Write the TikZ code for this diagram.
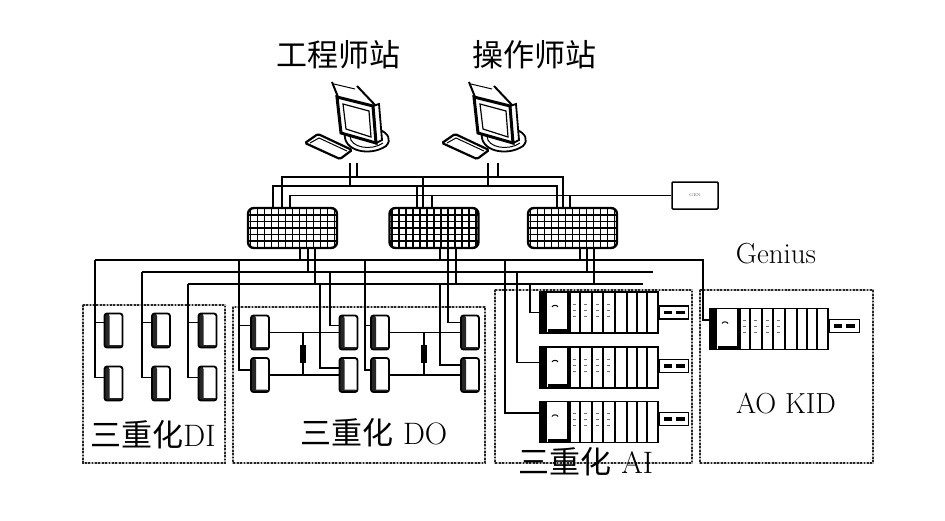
\documentclass[tikz,border=0pt]{standalone}
\usepackage{fontspec}
\newfontfamily\cjk{Noto Sans CJK SC}
\usetikzlibrary{calc}
\newcommand\wstation{%
  % keyboard
  \draw[line width=2.2pt, rounded corners=1.5pt, fill=white] (305,143) -- (318,134) -- (352,150) -- (340,159) -- cycle;
  \draw[line width=1pt] (310,143) -- (319,138) -- (347,151);
  % base
  \draw[line width=1.8pt] (345,133) .. controls (342,151) and (370,157) .. (386,146) .. controls (392,140) and (388,133) .. (380,130);
  \draw[line width=1pt] (350,136) .. controls (350,148) and (372,151) .. (383,143);
  % back of monitor
  \draw[line width=2pt] (332,82) -- (338,97);
  \draw[line width=2pt] (357,86) -- (375,105);
  \draw[line width=1pt] (334,84) -- (355,89);
  % right side
  \draw[line width=1.8pt, fill=white] (373,106) -- (379,104) -- (382,140) -- (376,143) -- cycle;
  % front frame
  \draw[line width=3pt, fill=white] (337,97) -- (373,106) -- (376,143) -- (341,133) -- cycle;
  \draw[line width=1.2pt] (343,104) -- (369,111) -- (371,137) -- (346,129) -- cycle;
}
\begin{document}
\begin{tikzpicture}[x=1pt,y=-1pt,
  wire/.style={line width=1.45pt},
  grpbase/.style={draw=black!30, line width=2.8pt},
  grp/.style={draw=black!85, line width=2.8pt, dash pattern=on 1.8pt off 1.6pt},
  iomod/.style={draw, line width=1.8pt, rounded corners=2.5pt, minimum width=18pt, minimum height=34pt, inner sep=0pt, fill=white,
    path picture={\fill[black!85] (path picture bounding box.south west) rectangle ([xshift=5pt]path picture bounding box.north west);
      \fill[black!85] (path picture bounding box.south west) rectangle ([yshift=2.5pt]path picture bounding box.south east);}},
  switchbox/.style={draw, line width=2.4pt, rounded corners=6pt, minimum width=89pt, minimum height=40pt, inner sep=0pt, fill=white,
    path picture={\draw[line width=1.1pt, xstep=7pt, ystep=6.5pt] (path picture bounding box.south west) grid (path picture bounding box.north east);}},
  rack/.style={draw, line width=1.6pt, minimum width=118pt, minimum height=41pt, inner sep=0pt, fill=white,
    path picture={%
      \fill[black] (path picture bounding box.south west) rectangle ([xshift=7pt]path picture bounding box.north west);
      \fill[black] ([xshift=8pt,yshift=1pt]path picture bounding box.south west) rectangle ([xshift=27pt,yshift=4pt]path picture bounding box.south west);
      \draw[line width=1pt] ([xshift=12pt,yshift=-15pt]path picture bounding box.north west) to[bend left=70] ++(6pt,0);
      \foreach \o in {28,30,40,52,63,75,87,97,107}{\draw[line width=1.1pt] ([xshift=\o pt]path picture bounding box.south west) -- ([xshift=\o pt]path picture bounding box.north west);}
      \foreach \o in {33,44,56,67}{\foreach \h in {12,18,24}{\draw[black!55, line width=0.8pt] ([xshift=\o pt,yshift=-\h pt]path picture bounding box.north west) -- ++(3pt,0);}}}},
  railbox/.style={draw, line width=1.5pt, minimum width=29pt, minimum height=13pt, inner sep=0pt, fill=white,
    path picture={\fill[black] ([xshift=4pt,yshift=-1.8pt]path picture bounding box.west) rectangle ([xshift=12pt,yshift=1.8pt]path picture bounding box.west);
      \fill[black] ([xshift=16pt,yshift=-1.8pt]path picture bounding box.west) rectangle ([xshift=25pt,yshift=1.8pt]path picture bounding box.west);}},
  resist/.style={fill=black, minimum width=6pt, minimum height=18pt, inner sep=0pt},
  genbox/.style={draw, line width=1.5pt, rounded corners=1pt, minimum width=46pt, minimum height=27pt, inner sep=0pt, fill=white},
  cjklab/.style={font=\fontsize{31}{31}\selectfont, inner sep=0pt},
  latlab/.style={font=\fontsize{29}{29}\selectfont, inner sep=0pt}]
\useasboundingbox[fill=white] (0,0) rectangle (945,520);

% ---------------- labels
\node[cjklab] (englab) at (338,55) {\cjk 工程师站};
\node[cjklab] (oplab) at (534,55) {\cjk 操作师站};
\node[latlab] (genius) at (776,254) {Genius};

% ---------------- workstations
\wstation
\begin{scope}[xshift=137pt]\wstation\end{scope}
\coordinate (engL) at (350,163);
\coordinate (engR) at (357,163);
\coordinate (opL) at (488,163);
\coordinate (opR) at (498,163);

% ---------------- switches and GEN
\node[switchbox] (s1) at (292.5,228) {};
\node[switchbox] (s2) at (434,228) {};
\node[switchbox] (s3) at (572.5,228) {};
\node[genbox] (gen) at (695,195.5) {\fontsize{4}{4}\selectfont\color{black!60}GEN};

\coordinate (T1) at (0,177);
\coordinate (T2) at (0,186);

\foreach \s/\a/\b/\c in {s1/-10.5/-19.5/-2.5, s2/-11/-17/-2, s3/-9.5/-15.5/-2.5}{
  \path ([xshift=\a pt]\s.north) coordinate (\s-u1)
        ([xshift=\b pt]\s.north) coordinate (\s-u2)
        ([xshift=\c pt]\s.north) coordinate (\s-u3);
}
\draw[wire] (s1-u1) -- (s1-u1 |- T1) -| (s3-u1);
\draw[wire] (s2-u1) -- (s2-u1 |- T1);
\draw[wire] (s1-u2) -- (s1-u2 |- T2) -| (s3-u2);
\draw[wire] (s2-u2) -- (s2-u2 |- T2);
\draw[wire] (s1-u3) |- (gen.west);
\draw[wire] (s2-u3) -- (s2-u3 |- gen.west);
\draw[wire] (s3-u3) -- (s3-u3 |- gen.west);
\draw[wire] (engL) -- (engL |- T2);
\draw[wire] (engR) -- (engR |- T1);
\draw[wire] (opL) -- (opL |- T2);
\draw[wire] (opR) -- (opR |- T1);

% ---------------- lower buses
\coordinate (L1w) at (95,260);
\coordinate (L1e) at (703,260);
\coordinate (L2w) at (142,272);
\coordinate (L2e) at (653,272);
\coordinate (L3w) at (188,284);
\coordinate (L3e) at (643,284);
\draw[wire] (L2w) -- (L2e);
\draw[wire] (L3w) -- (L3e);

\foreach \s/\a/\b/\c in {s1/7.5/15.5/22.5, s2/6/14/22, s3/7.5/14.5/21.5}{
  \path ([xshift=\a pt]\s.south) coordinate (\s-d1)
        ([xshift=\b pt]\s.south) coordinate (\s-d2)
        ([xshift=\c pt]\s.south) coordinate (\s-d3);
  \draw[wire] (\s-d1) -- (\s-d1 |- L1w);
  \draw[wire] (\s-d2) -- (\s-d2 |- L2w);
  \draw[wire] (\s-d3) -- (\s-d3 |- L3w);
}

% ---------------- group boxes
\foreach \st in {grpbase,grp}{
  \draw[\st] (83,305) rectangle (225,463);
  \draw[\st] (233,307) rectangle (485,463);
  \draw[\st] (495,290) rectangle (692,463);
  \draw[\st] (700,290) rectangle (873,463);
}

% ---------------- DI
\node[iomod] (di1t) at (113.5,330.5) {};
\node[iomod] (di1b) at (113.5,383.5) {};
\node[iomod] (di2t) at (161,330.5) {};
\node[iomod] (di2b) at (161,383.5) {};
\node[iomod] (di3t) at (207.5,330.5) {};
\node[iomod] (di3b) at (207.5,383.5) {};
\draw[wire] ([yshift=8pt]di1t.west) -| (L1w);
\draw[wire] ([yshift=6pt]di1b.west) -| (L1w);
\draw[wire] ([yshift=8pt]di2t.west) -| (L2w);
\draw[wire] ([yshift=6pt]di2b.west) -| (L2w);
\draw[wire] ([yshift=8pt]di3t.west) -| (L3w);
\draw[wire] ([yshift=6pt]di3b.west) -| (L3w);

% ---------------- DO
\node[iomod] (doAt) at (260,332.5) {};
\node[iomod] (doAb) at (260,375) {};
\node[iomod] (doBt) at (348.5,332.5) {};
\node[iomod] (doBb) at (348.5,375) {};
\node[iomod] (doCt) at (380,332.5) {};
\node[iomod] (doCb) at (380,375) {};
\node[iomod] (doDt) at (470,332.5) {};
\node[iomod] (doDb) at (470,375) {};
\coordinate (tA) at (239,260);
\coordinate (tBt) at (330,272);
\coordinate (tBb) at (320,284);
\coordinate (tC) at (365,260);
\coordinate (tDt) at (448,272);
\coordinate (tDb) at (440,284);
\draw[wire] ([yshift=7pt]doAt.west) -| (tA);
\draw[wire] ([yshift=5pt]doAb.west) -| (tA);
\draw[wire] ([yshift=7pt]doBt.west) -| (tBt);
\draw[wire] ([yshift=7pt]doBb.west) -| (tBb);
\draw[wire] ([yshift=7pt]doCt.west) -| (tC);
\draw[wire] ([yshift=5pt]doCb.west) -| (tC);
\draw[wire] ([yshift=10pt]doDt.west) -| (tDt);
\draw[wire] ([yshift=10pt]doDb.west) -| (tDb);
\draw[wire] (doAt.east) -- (doBt.west |- doAt.east);
\draw[wire] (doAb.east) -- (doBb.west |- doAb.east);
\draw[wire] (doCt.east) -- (doDt.west |- doCt.east);
\draw[wire] (doCb.east) -- (doDb.west |- doCb.east);
\node[resist] (res1) at (303,354) {};
\node[resist] (res2) at (424,354) {};
\draw[wire] (res1.north) -- (res1.north |- doAt.east);
\draw[wire] (res1.south) -- (res1.south |- doAb.east);
\draw[wire] (res2.north) -- (res2.north |- doCt.east);
\draw[wire] (res2.south) -- (res2.south |- doCb.east);

% ---------------- AI
\node[rack] (r1) at (599,312.5) {};
\node[rack] (r2) at (599,367.5) {};
\node[rack] (r3) at (599,422) {};
\node[railbox, anchor=west] (r1rail) at (r1.east) {};
\node[railbox, anchor=west] (r2rail) at ([yshift=1.5pt]r2.east) {};
\node[railbox, anchor=west] (r3rail) at ([yshift=3pt]r3.east) {};
\coordinate (t7) at (530,284);
\coordinate (t8) at (517,272);
\coordinate (t9) at (505,260);
\draw[wire] (r1.west) -| (t7);
\draw[wire] ([yshift=5pt]r2.west) -| (t8);
\draw[wire] ([yshift=9pt]r3.west) -| (t9);

% ---------------- AO
\node[rack] (ao) at (769,329) {};
\node[railbox, anchor=west, minimum width=30pt] (aorail) at ([yshift=3pt]ao.east) {};
\draw[wire] (L1w) -- (L1e) |- ([yshift=9pt]ao.west);

% ---------------- group labels
\node[cjklab] (dilab) at (153,435) {{\cjk 三重化}DI};
\node[cjklab] (dolab) at (374,433) {{\cjk 三重化} DO};
\node[cjklab] (ailab) at (586,462) {{\cjk 三重化} AI};
\node[latlab] (aolab) at (786,403) {AO KID};
\end{tikzpicture}
\end{document}
